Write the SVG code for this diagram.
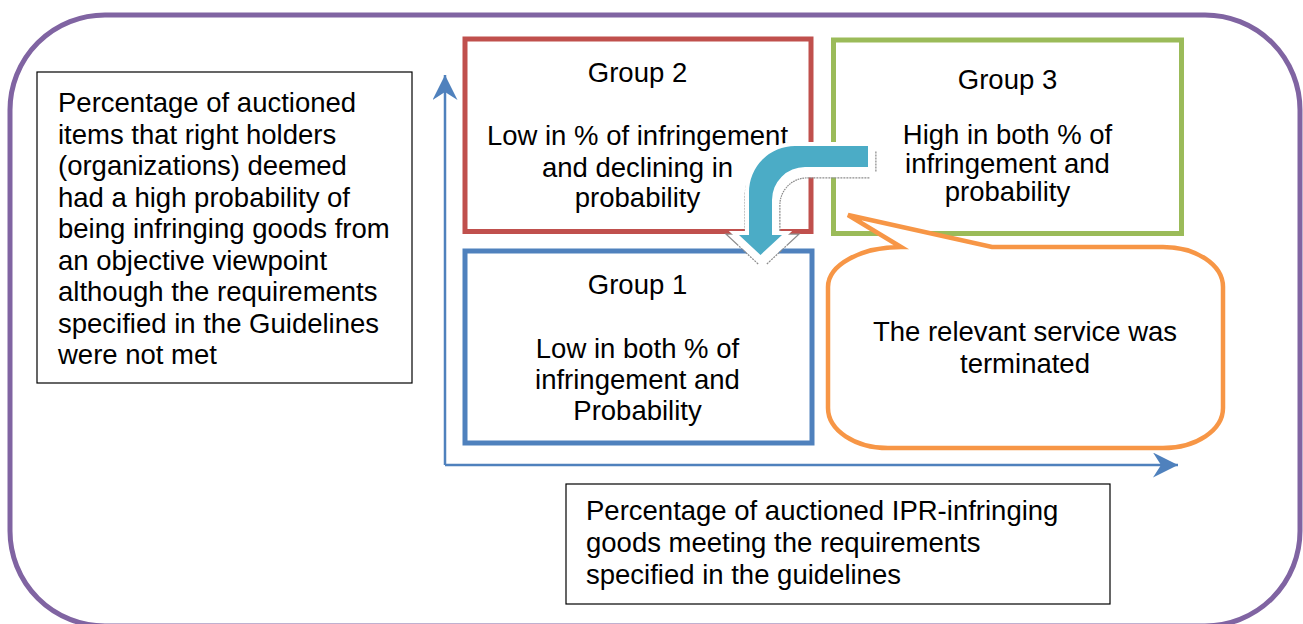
<svg xmlns="http://www.w3.org/2000/svg" width="1303" height="624" viewBox="0 0 1303 624">
  <style>
    text { font-family: "Liberation Sans", Arial, sans-serif; font-size: 27.5px; fill: #000; }
    .c { text-anchor: middle; }
    .box { fill: none; stroke-width: 5; }
    .lbl { fill: #fff; stroke: #000; stroke-width: 1.2; }
    .axis { fill: none; stroke: #4F81BD; stroke-width: 2.5; }
  </style>
  <defs>
    <marker id="axhead" markerWidth="26" markerHeight="26" refX="25" refY="12.5" orient="auto" markerUnits="userSpaceOnUse">
      <path d="M25,12.5 L0,0 L8,12.5 L0,25 Z" fill="#4F81BD"/>
    </marker>
    <path id="bent" d="M868,146 L795,146 A46,46 0 0 0 749,192 L749,235 L739,235 L760.5,255 L782,235 L772,235 L772,200 A33,33 0 0 1 805,167 L868,167 Z"/>
  </defs>
  <rect width="1303" height="624" fill="#fff"/>

  <g id="frame">
    <rect x="10" y="15" width="1290" height="611" rx="95" ry="95" fill="none" stroke="#8064A2" stroke-width="5"/>
  </g>

  <g id="y-label">
    <rect class="lbl" x="37" y="72" width="375" height="311"/>
    <text x="58" y="112">Percentage of auctioned</text>
    <text x="58" y="143.5">items that right holders</text>
    <text x="58" y="175">(organizations) deemed</text>
    <text x="58" y="206.5">had a high probability of</text>
    <text x="58" y="238">being infringing goods from</text>
    <text x="58" y="269.5">an objective viewpoint</text>
    <text x="58" y="301">although the requirements</text>
    <text x="58" y="332.5">specified in the Guidelines</text>
    <text x="58" y="364">were not met</text>
  </g>

  <g id="group2">
    <rect class="box" x="465" y="39" width="346" height="192.5" stroke="#C0504D"/>
    <text class="c" x="637.5" y="82">Group 2</text>
    <text class="c" x="637.5" y="145">Low in % of infringement</text>
    <text class="c" x="637.5" y="176.5">and declining in</text>
    <text class="c" x="637.5" y="207">probability</text>
  </g>

  <g id="group3">
    <rect class="box" x="833.5" y="40" width="348" height="193.5" stroke="#9BBB59"/>
    <text class="c" x="1007.5" y="89">Group 3</text>
    <text class="c" x="1007.5" y="144">High in both % of</text>
    <text class="c" x="1007.5" y="172.5">infringement and</text>
    <text class="c" x="1007.5" y="201">probability</text>
  </g>

  <g id="group1">
    <rect class="box" x="465" y="251" width="347" height="192" stroke="#4F81BD"/>
    <text class="c" x="637.5" y="294">Group 1</text>
    <text class="c" x="637.5" y="358">Low in both % of</text>
    <text class="c" x="637.5" y="389">infringement and</text>
    <text class="c" x="637.5" y="420">Probability</text>
  </g>

  <g id="callout">
    <path d="M901,247 L848,215 L992,247 L1163,247 A60,40 0 0 1 1223,287 L1223,408 A60,40 0 0 1 1163,448 L888,448 A60,40 0 0 1 828,408 L828,287 A73,40 0 0 1 901,247 Z" fill="#fff" stroke="#F79646" stroke-width="4.5" stroke-linejoin="miter"/>
    <text class="c" x="1025" y="341">The relevant service was</text>
    <text class="c" x="1025" y="372.5">terminated</text>
  </g>

  <g id="x-label">
    <rect class="lbl" x="566" y="484" width="544" height="120"/>
    <text x="586" y="520">Percentage of auctioned IPR-infringing</text>
    <text x="586" y="552">goods meeting the requirements</text>
    <text x="586" y="584">specified in the guidelines</text>
  </g>

  <g id="connectors">
    <path class="axis" d="M445,465 L445,75" marker-end="url(#axhead)"/>
    <path class="axis" d="M445,465 L1178,465" marker-end="url(#axhead)"/>
    <g id="bent-arrow">
      <use href="#bent" transform="translate(2,5)" fill="none" stroke="#8c8c8c" stroke-width="13" stroke-linejoin="miter" stroke-dasharray="2 1"/>
      <use href="#bent" transform="translate(2,5)" fill="#fff" stroke="#fff" stroke-width="10.5" stroke-linejoin="miter"/>
      <use href="#bent" fill="#4BACC6" stroke="#fff" stroke-width="8" stroke-linejoin="miter"/>
      <use href="#bent" fill="#4BACC6"/>
    </g>
  </g>
</svg>
